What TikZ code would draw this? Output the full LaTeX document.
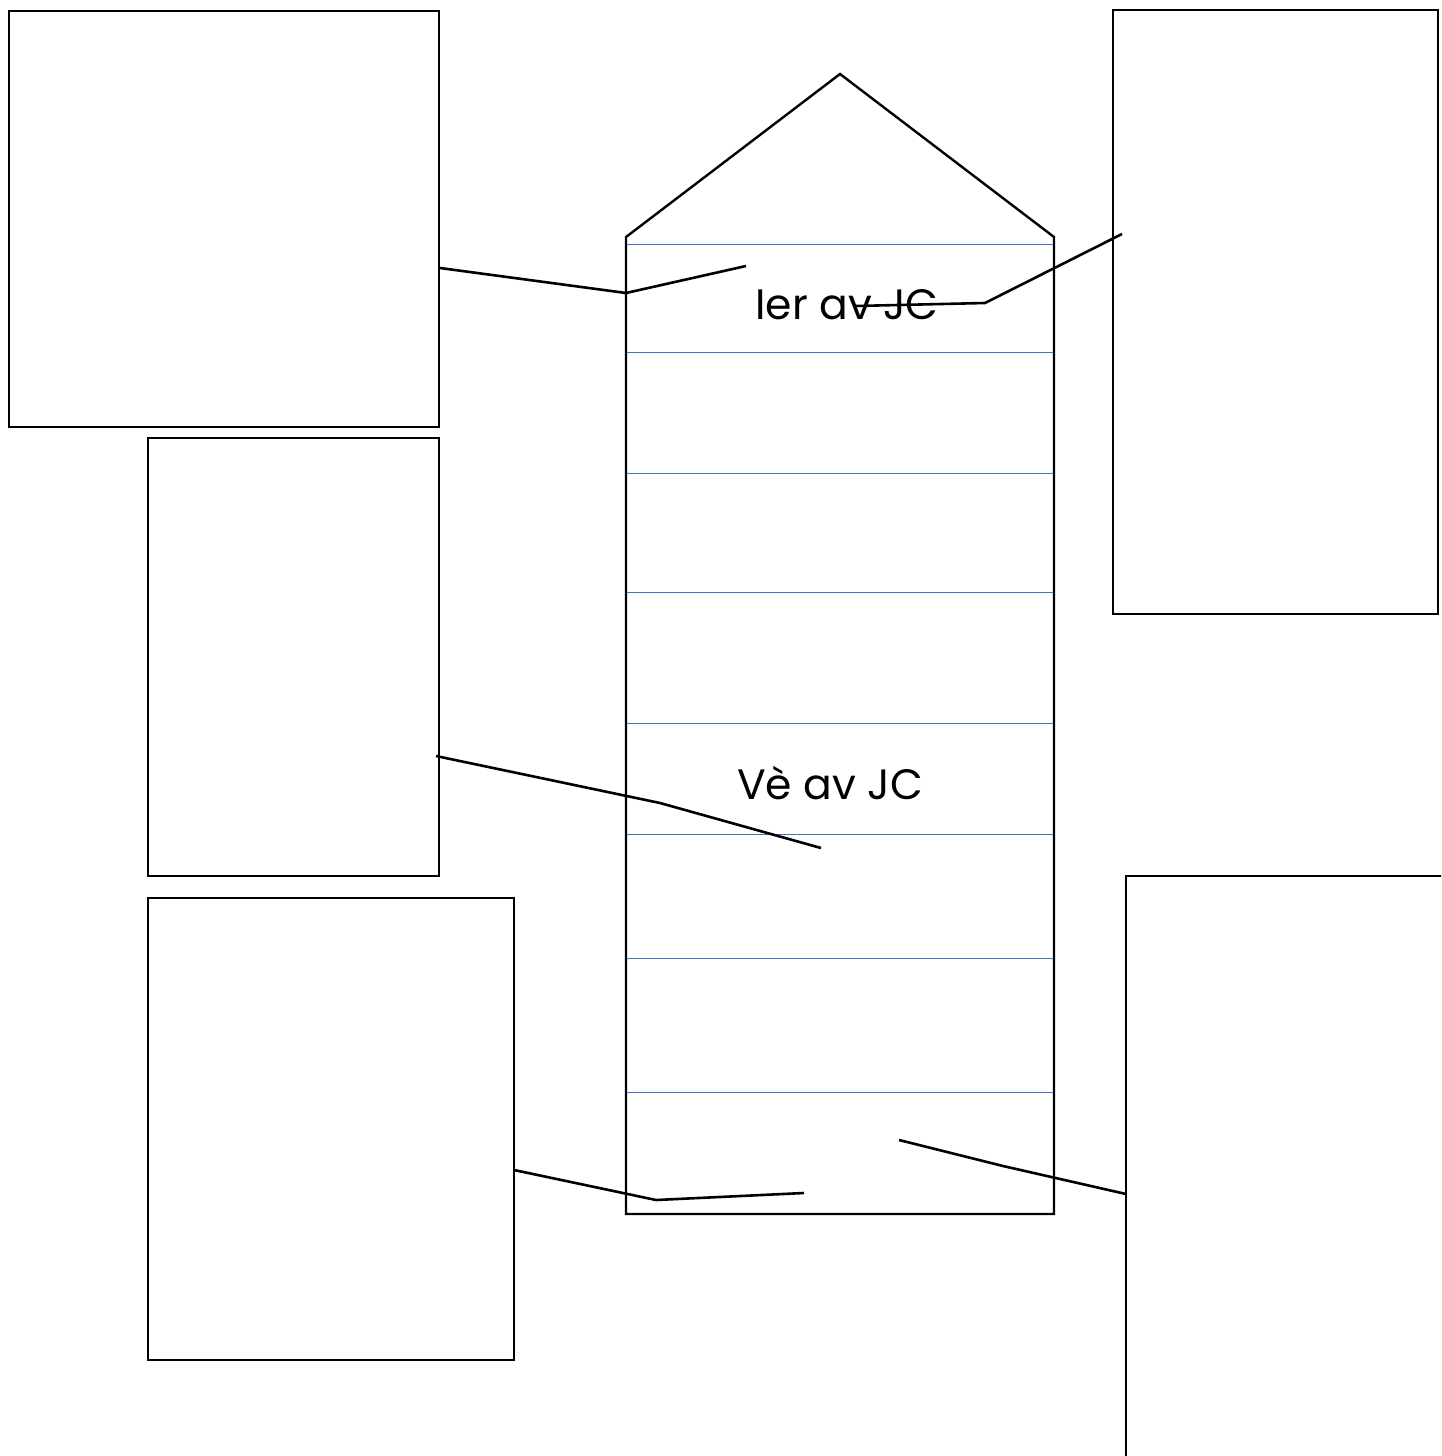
\documentclass[tikz,border=0pt]{standalone}
\usepackage{fontspec}
\setmainfont{Poppins}
\definecolor{rowblue}{HTML}{4472C4}
\begin{document}
\begin{tikzpicture}[x=1pt,y=-1pt,
  box/.style={draw=black, line width=2.4pt, anchor=north west, inner sep=0pt, outer sep=0pt},
  tower/.style={draw=black, line width=2.4pt, line join=miter},
  rowline/.style={draw=rowblue, line width=1pt},
  conn/.style={draw=black, line width=2.6pt, line join=round},
  lbl/.style={font=\fontsize{42.5}{46}\selectfont, inner sep=0pt}]
\useasboundingbox (0,0) rectangle (1441,1456);
\clip (0,0) rectangle (1441,1456);
% side boxes
\node[box, minimum width=430pt, minimum height=416pt] (A) at (9,11) {};
\node[box, minimum width=291pt, minimum height=438pt] (B) at (148,438) {};
\node[box, minimum width=366pt, minimum height=462pt] (C) at (148,898) {};
\node[box, minimum width=325pt, minimum height=604pt] (D) at (1113,10) {};
\node[box, minimum width=360pt, minimum height=620pt] (E) at (1126,876) {};
% tower
\coordinate (tl) at (626,237);
\coordinate (tp) at (840,74);
\coordinate (tr) at (1054,237);
\coordinate (br) at (1054,1214);
\coordinate (bl) at (626,1214);
\draw[tower] (bl) -- (tl) -- (tp) -- (tr) -- (br) -- cycle;
\foreach \yy in {244,352,473,592,723,834,958,1092}
  \draw[rowline] (627,\yy) -- (1053,\yy);
% labels
\node[lbl] (t1) at (847,305) {Ier av JC};
\node[lbl] (t2) at (830,783) {Vè av JC};
% connectors
\coordinate (a1) at (440,268);
\coordinate (a2) at (626,293);
\coordinate (a3) at (746,266);
\draw[conn] (a1) -- (a2) -- (a3);
\coordinate (d1) at (1122,234);
\coordinate (d2) at (985,303);
\coordinate (d3) at (855,306);
\draw[conn] (d1) -- (d2) -- (d3);
\coordinate (b1) at (436,756);
\coordinate (b2) at (660,803);
\coordinate (b3) at (821,848);
\draw[conn] (b1) -- (b2) -- (b3);
\coordinate (c1) at (514,1170);
\coordinate (c2) at (656,1200);
\coordinate (c3) at (804,1193);
\draw[conn] (c1) -- (c2) -- (c3);
\coordinate (e1) at (899,1140);
\coordinate (e2) at (1003,1166);
\coordinate (e3) at (1126,1194);
\draw[conn] (e1) -- (e2) -- (e3);
\end{tikzpicture}
\end{document}
